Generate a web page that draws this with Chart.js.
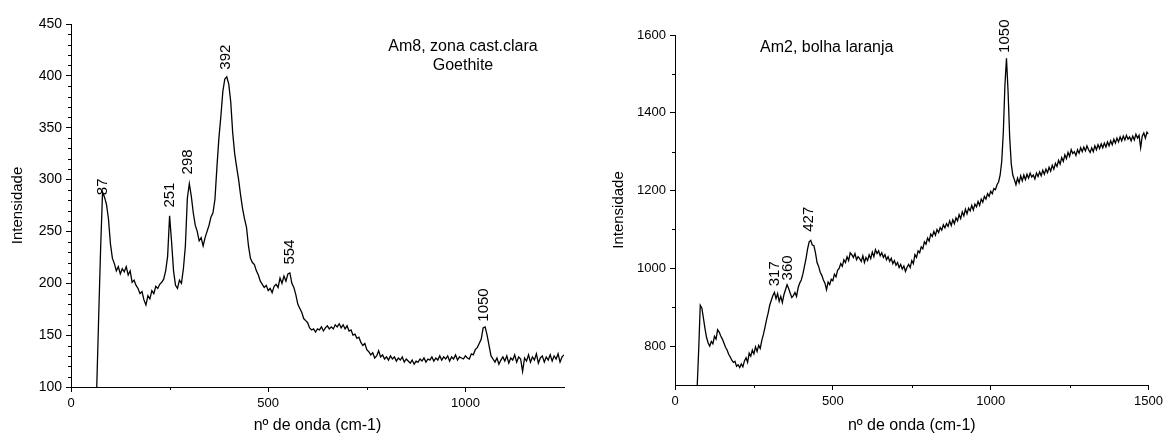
<!DOCTYPE html>
<html>
<head>
<meta charset="utf-8">
<script src="https://cdn.jsdelivr.net/npm/chart.js@4/dist/chart.umd.min.js"></script>
<style>
  html, body { margin: 0; padding: 0; background: #fff; }
  #wrap { position: relative; width: 1167px; height: 435px; }
  #esq { position: absolute; left: 0; top: 0; }
  #dir { position: absolute; left: 590px; top: 0; }
</style>
</head>
<body>
<div id="wrap">
  <canvas id="esq" width="590" height="435"></canvas>
  <canvas id="dir" width="577" height="435"></canvas>
</div>
<script>
// ---- dados: Am8 (esquerda), nº de onda de 65 a 1250, passo 5
const esqInicio = 65;
const esqPasso = 5;
const esqIntensidade = [
  96, 165, 232, 288, 283, 276, 262, 238, 224, 219,
  212, 216, 209, 214, 211, 216, 208, 212, 201, 203,
  198, 195, 190, 192, 184, 179, 188, 185, 193, 190,
  197, 195, 199, 201, 204, 212, 226, 265, 240, 212,
  198, 195, 203, 200, 214, 236, 282, 296, 284, 268,
  256, 250, 241, 244, 236, 244, 250, 256, 264, 268,
  281, 312, 340, 361, 385, 397, 399, 392, 375, 345,
  325, 312, 300, 285, 272, 262, 254, 236, 224, 220,
  218, 212, 208, 202, 199, 196, 198, 193, 195, 191,
  197, 199, 196, 205, 200, 207, 202, 209, 210, 200,
  196, 189, 180, 176, 172, 166, 164, 162, 157, 155,
  156, 153, 156, 155, 158, 154, 157, 159, 156, 158,
  156, 160, 158, 161, 157, 160, 156, 159, 154, 155,
  150, 151, 147, 148, 143, 140, 142, 136, 134, 131,
  133, 128, 130, 135, 129, 131, 127, 129, 126, 130,
  127, 129, 125, 128, 126, 129, 124, 127, 125, 123,
  126, 122, 125, 124, 127, 125, 128, 124, 127, 126,
  129, 125, 128, 126, 130, 126, 129, 127, 130, 125,
  129, 127, 131, 126, 129, 128, 127, 130, 128, 127,
  132, 131, 136, 138, 142, 146, 157, 158, 150, 140,
  130, 127, 124, 128, 122, 126, 129, 125, 130, 123,
  128, 126, 131, 124, 129, 127, 115, 128, 125, 131,
  124, 129, 126, 132, 123, 128, 130, 124, 129, 126,
  131, 125, 130, 127, 132, 124, 129, 131
];
const esqTicksX = [0, 500, 1000];
const esqTicksY = [100, 150, 200, 250, 300, 350, 400, 450];
const esqPicosNome = ['87', '251', '298', '392', '554', '1050'];
const esqPicosX = [81, 251, 297, 392, 556, 1046];
const esqPicosY = [285, 273, 305, 406, 218, 163];

// ---- dados: Am2 (direita), nº de onda de 70 a 1500, passo 5
const dirInicio = 70;
const dirPasso = 5;
const dirIntensidade = [
  690, 790, 905, 898, 872, 845, 822, 808, 800, 812,
  806, 825, 818, 842, 836, 826, 818, 808, 797, 790,
  779, 772, 764, 758, 761, 748, 752, 745, 754, 747,
  762, 770, 758, 782, 774, 790, 780, 798, 786, 802,
  794, 815, 830, 848, 868, 885, 905, 918, 930, 938,
  922, 935, 915, 928, 912, 932, 945, 958, 948, 936,
  925, 930, 938, 928, 950, 962, 970, 985, 1005, 1025,
  1050, 1068, 1072, 1060, 1058, 1040, 1015, 1005, 990, 982,
  970, 962, 945, 965, 958, 972, 968, 985, 978, 995,
  1000, 1012, 1005, 1022, 1015, 1030, 1020, 1040, 1035, 1028,
  1038, 1022, 1030, 1025, 1018, 1032, 1015, 1028, 1020, 1035,
  1025, 1042, 1030, 1048, 1038, 1045, 1032, 1040, 1028, 1035,
  1022, 1030, 1018, 1026, 1012, 1020, 1008, 1015, 1002, 1010,
  998, 1006, 992, 1003, 1010, 1002, 1020, 1012, 1035, 1028,
  1045, 1040, 1055, 1050, 1068, 1062, 1078, 1070, 1088, 1082,
  1095, 1085, 1100, 1092, 1105, 1098, 1112, 1104, 1115, 1108,
  1122, 1110, 1125, 1115, 1130, 1122, 1138, 1128, 1145, 1135,
  1152, 1140, 1155, 1148, 1162, 1150, 1165, 1158, 1172, 1162,
  1178, 1170, 1185, 1178, 1192, 1185, 1198, 1192, 1205, 1202,
  1215, 1222, 1240, 1275, 1350, 1470, 1540, 1455, 1340, 1270,
  1240, 1228, 1215, 1232, 1220, 1238, 1225, 1240, 1228, 1242,
  1232, 1245, 1235, 1240, 1230, 1245, 1236, 1248, 1238, 1252,
  1242, 1255, 1246, 1260, 1250, 1265, 1255, 1270, 1262, 1278,
  1268, 1285, 1275, 1292, 1282, 1298, 1288, 1305, 1295, 1300,
  1290, 1305, 1296, 1310, 1300, 1312, 1302, 1315, 1305, 1298,
  1310, 1300, 1315, 1305, 1318, 1308, 1320, 1310, 1322, 1312,
  1325, 1315, 1328, 1318, 1332, 1322, 1335, 1325, 1338, 1328,
  1340, 1330, 1342, 1332, 1338, 1328, 1340, 1330, 1345, 1335,
  1342, 1310, 1340, 1348, 1335, 1350, 1345
];
const dirTicksX = [0, 500, 1000, 1500];
const dirTicksY = [800, 1000, 1200, 1400, 1600];
const dirPicosNome = ['317', '360', '427', '1050'];
const dirPicosX = [315, 359, 425, 1046];
const dirPicosY = [954, 969, 1094, 1554];

const FONTE = '"Liberation Sans", Arial, sans-serif';
Chart.defaults.font.family = FONTE;
Chart.defaults.color = '#000';

// ticks menores e textos (rotulos dos picos, legendas) desenhados por cima
const marcasPlugin = {
  id: 'marcas',
  afterDraw(chart, args, o) {
    const { ctx, chartArea: a, scales: { x, y } } = chart;
    ctx.save();
    ctx.strokeStyle = '#000';
    ctx.lineWidth = 1;
    ctx.beginPath();
    o.menorX.forEach(v => {
      const px = Math.round(x.getPixelForValue(v)) + 0.5;
      ctx.moveTo(px, a.bottom); ctx.lineTo(px, a.bottom + 3);
    });
    o.menorY.forEach(v => {
      const py = Math.round(y.getPixelForValue(v)) + 0.5;
      ctx.moveTo(a.left, py); ctx.lineTo(a.left - 3, py);
    });
    ctx.stroke();

    ctx.fillStyle = '#000';
    ctx.font = '15px ' + FONTE;
    ctx.textAlign = 'left';
    ctx.textBaseline = 'middle';
    o.picosNome.forEach((t, i) => {
      ctx.save();
      ctx.translate(x.getPixelForValue(o.picosX[i]), y.getPixelForValue(o.picosY[i]));
      ctx.rotate(-Math.PI / 2);
      ctx.fillText(t, 0, 0);
      ctx.restore();
    });

    ctx.font = '16px ' + FONTE;
    ctx.textAlign = o.notaAlinha;
    o.notas.forEach(n => ctx.fillText(n.texto, n.x, n.y));
    ctx.restore();
  }
};

function menores(ini, fim, passo, maior) {
  const r = [];
  for (let v = ini; v <= fim; v += passo) if (v % maior !== 0) r.push(v);
  return r;
}

function montar(id, cfg) {
  const pontos = cfg.valores.map((v, i) => ({ x: cfg.inicio + i * cfg.passo, y: v }));
  return new Chart(document.getElementById(id), {
    type: 'line',
    data: { datasets: [{ data: pontos, borderColor: '#000', borderWidth: 1.3, pointRadius: 0, tension: 0, fill: false }] },
    plugins: [marcasPlugin],
    options: {
      responsive: false,
      animation: false,
      layout: { padding: { top: cfg.topo, right: cfg.direita, left: 0, bottom: 0 } },
      plugins: {
        legend: { display: false },
        tooltip: { enabled: false },
        marcas: cfg.marcas
      },
      scales: {
        x: {
          type: 'linear', min: cfg.xMin, max: cfg.xMax,
          afterBuildTicks: s => { s.ticks = cfg.ticksX.map(v => ({ value: v })); },
          afterFit: s => { s.height = cfg.alturaX; },
          grid: { drawOnChartArea: false, color: '#000', tickLength: 5 },
          border: { color: '#000', width: 1 },
          ticks: { font: { size: 13 }, padding: 4, maxRotation: 0, autoSkip: false, callback: v => String(v) },
          title: { display: true, text: 'nº de onda (cm-1)', font: { size: 16 }, padding: { top: 0, bottom: 0 } }
        },
        y: {
          type: 'linear', min: cfg.yMin, max: cfg.yMax,
          afterBuildTicks: s => { s.ticks = cfg.ticksY.map(v => ({ value: v })); },
          afterFit: s => { s.width = cfg.larguraY; },
          grid: { drawOnChartArea: false, color: '#000', tickLength: 5 },
          border: { color: '#000', width: 1 },
          ticks: { font: { size: cfg.fonteY }, padding: 4, autoSkip: false, callback: v => String(v) },
          title: { display: true, text: 'Intensidade', font: { size: 15 }, padding: { top: cfg.tituloY, bottom: 0 } }
        }
      }
    }
  });
}

montar('esq', {
  valores: esqIntensidade, inicio: esqInicio, passo: esqPasso,
  xMin: 0, xMax: 1250, yMin: 100, yMax: 450,
  ticksX: esqTicksX, ticksY: esqTicksY,
  topo: 24, direita: 26, alturaX: 48, larguraY: 71, tituloY: 9, fonteY: 14,
  marcas: {
    menorX: [250, 750], menorY: menores(110, 440, 10, 50),
    picosNome: esqPicosNome, picosX: esqPicosX, picosY: esqPicosY,
    notaAlinha: 'center',
    notas: [{ texto: 'Am8, zona cast.clara', x: 463, y: 47 }, { texto: 'Goethite', x: 463, y: 66 }]
  }
});

montar('dir', {
  valores: dirIntensidade, inicio: dirInicio, passo: dirPasso,
  xMin: 0, xMax: 1500, yMin: 700, yMax: 1600,
  ticksX: dirTicksX, ticksY: dirTicksY,
  topo: 35, direita: 16, alturaX: 50, larguraY: 85, tituloY: 20, fonteY: 13,
  marcas: {
    menorX: [250, 750, 1250], menorY: [900, 1100, 1300, 1500],
    picosNome: dirPicosNome, picosX: dirPicosX, picosY: dirPicosY,
    notaAlinha: 'left',
    notas: [{ texto: 'Am2, bolha laranja', x: 170, y: 48 }]
  }
});
</script>
</body>
</html>
